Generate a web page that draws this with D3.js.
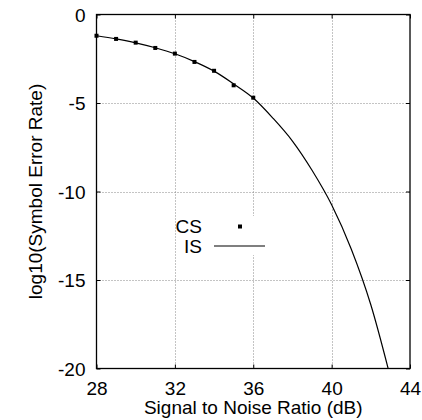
<!DOCTYPE html>
<html>
<head>
<meta charset="utf-8">
<script src="https://cdn.jsdelivr.net/npm/d3@7"></script>
<style>
body{margin:0;background:#fff;}
svg{display:block;font-family:"Liberation Sans",Arial,Helvetica,sans-serif;}
</style>
</head>
<body>
<svg id="chart" width="422" height="420"></svg>
<script>
// CS = simulated points, IS = curve
var csSnr=[28,29,30,31,32,33,34,35,36];
var csSer=[-1.2,-1.38,-1.59,-1.89,-2.21,-2.68,-3.18,-4.0,-4.7];
var isSnr=[28,29,30,31,32,33,34,35,36,37,38,39,40,41,42,43];
var isSer=[-1.2,-1.38,-1.6,-1.88,-2.22,-2.66,-3.2,-3.92,-4.72,-5.85,-7.15,-8.8,-10.75,-13.25,-16.4,-20.5];
var xTicks=[28,32,36,40,44];
var yTicks=[0,-5,-10,-15,-20];
var xTitle="Signal to Noise Ratio (dB)";
var yTitle="log10(Symbol Error Rate)";
var legendNames=["CS","IS"];

var pL=96.5,pR=410,pT=14.5,pB=368.5;
var svg=d3.select('#chart');
var x=d3.scaleLinear().domain([28,44]).range([pL,pR]);
var y=d3.scaleLinear().domain([-20,0]).range([pB,pT]);
var plain=function(d){return String(d);};

svg.append('defs').append('clipPath').attr('id','clip')
    .append('rect').attr('x',pL).attr('y',pT)
    .attr('width',pR-pL).attr('height',pB-pT);

// grid
var grid=svg.append('g').attr('stroke','#888').attr('stroke-width',1).attr('stroke-dasharray','1,2');
grid.selectAll('line.gx').data(xTicks.slice(1,-1)).enter().append('line')
    .attr('x1',function(d){return Math.round(x(d))+0.5;})
    .attr('x2',function(d){return Math.round(x(d))+0.5;})
    .attr('y1',pT).attr('y2',pB);
grid.selectAll('line.gy').data(yTicks.slice(1,-1)).enter().append('line')
    .attr('y1',function(d){return Math.round(y(d))+0.5;})
    .attr('y2',function(d){return Math.round(y(d))+0.5;})
    .attr('x1',pL).attr('x2',pR);

// axes with inward ticks
var fs='19px';
var xAx=svg.append('g').attr('transform','translate(0,'+pB+')')
    .call(d3.axisBottom(x).tickValues(xTicks).tickSize(-4).tickPadding(0).tickFormat(plain));
var yAx=svg.append('g').attr('transform','translate('+pL+',0)')
    .call(d3.axisLeft(y).tickValues(yTicks).tickSize(-4).tickPadding(0).tickFormat(plain));
svg.append('g').attr('transform','translate(0,'+pT+')')
    .call(d3.axisTop(x).tickValues(xTicks).tickSize(-4).tickFormat(''));
svg.append('g').attr('transform','translate('+pR+',0)')
    .call(d3.axisRight(y).tickValues(yTicks).tickSize(-4).tickFormat(''));
svg.selectAll('.domain').remove();
svg.selectAll('.tick line').attr('stroke','#000');
xAx.selectAll('text').attr('font-size',fs).attr('fill','#000')
    .attr('y',26).attr('dy',0);
yAx.selectAll('text').attr('font-size',fs).attr('fill','#000')
    .attr('x',-11).attr('dy','0.35em');
svg.selectAll('.tick text').attr('font-family','"Liberation Sans",Arial,sans-serif');

// legend background (opaque key)
svg.append('rect').attr('x',177).attr('y',216).attr('width',95).attr('height',39).attr('fill','#fff');

// curve
var line=d3.line().x(function(d){return x(d[0]);}).y(function(d){return y(d[1]);})
    .curve(d3.curveMonotoneX);
svg.append('path').datum(d3.zip(isSnr,isSer))
    .attr('clip-path','url(#clip)')
    .attr('d',line).attr('fill','none').attr('stroke','#000').attr('stroke-width',1.2);

// points
svg.selectAll('rect.pt').data(d3.zip(csSnr,csSer)).enter().append('rect')
    .attr('class','pt')
    .attr('x',function(d){return x(d[0])-2;})
    .attr('y',function(d){return y(d[1])-2;})
    .attr('width',4).attr('height',4).attr('fill','#000');

// border
svg.append('rect').attr('x',pL).attr('y',pT).attr('width',pR-pL).attr('height',pB-pT)
    .attr('fill','none').attr('stroke','#000').attr('stroke-width',1.3);

// legend
var lg=svg.append('g').attr('font-size',fs);
lg.selectAll('text').data(legendNames).enter().append('text')
    .attr('x',202).attr('y',function(d,i){return 226.5+i*19.5;})
    .attr('dy','0.35em').attr('text-anchor','end').text(function(d){return d;});
lg.append('rect').attr('x',238).attr('y',224.5).attr('width',4).attr('height',4).attr('fill','#000');
lg.append('line').attr('x1',214).attr('x2',265).attr('y1',246).attr('y2',246)
    .attr('stroke','#000').attr('stroke-width',1.2);

// titles
svg.append('text').attr('x',(pL+pR)/2).attr('y',414).attr('text-anchor','middle')
    .attr('font-size',fs).text(xTitle);
svg.append('text').attr('transform','translate(42,'+((pT+pB)/2)+') rotate(-90)')
    .attr('text-anchor','middle').attr('font-size',fs).text(yTitle);
</script>
</body>
</html>
